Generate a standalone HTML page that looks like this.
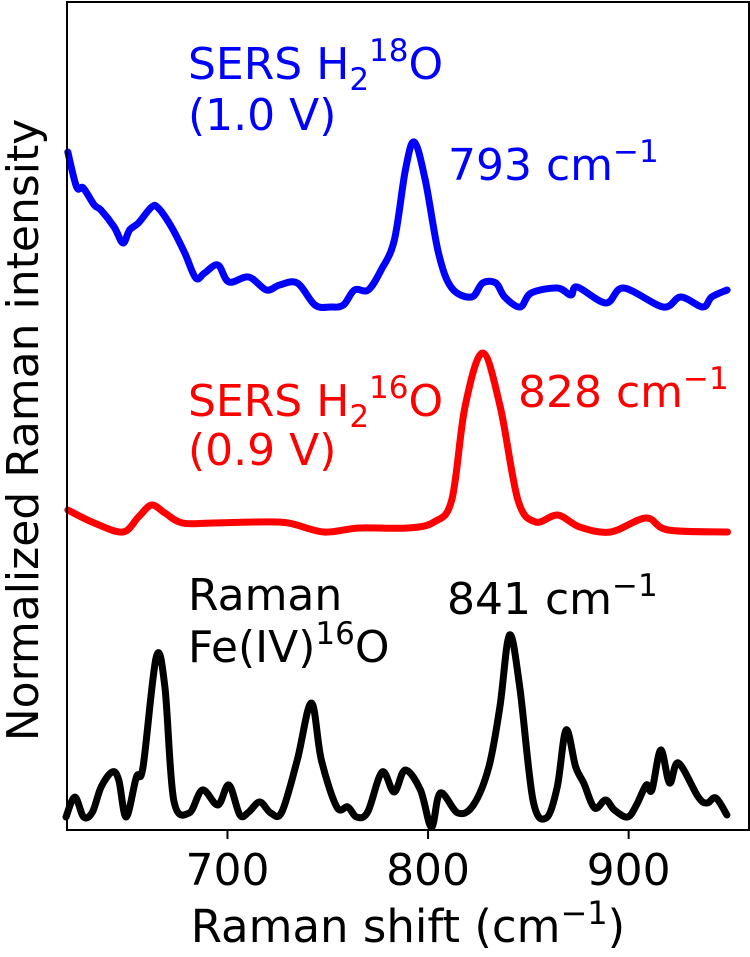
<!DOCTYPE html>
<html><head><meta charset="utf-8"><style>
html,body{margin:0;padding:0;background:#fff;}
svg text{font-family:"DejaVu Sans","Liberation Sans",sans-serif;}
</style></head><body>
<svg id="chart" width="750" height="952" viewBox="0 0 750 952" xmlns="http://www.w3.org/2000/svg">
<g id="series"></g>
<rect x="67" y="2" width="682" height="828" fill="none" stroke="#000" stroke-width="2"/>
<g id="ticks"></g>
<text x="408" y="942" font-size="45" text-anchor="middle">Raman shift (cm<tspan dy="-18" font-size="32">−1</tspan><tspan dy="18">)</tspan></text>
<text transform="translate(38,430) rotate(-90)" font-size="44" text-anchor="middle">Normalized Raman intensity</text>
<g fill="#0000ff" font-size="44">
<text x="188" y="79">SERS H<tspan dy="11" font-size="31">2</tspan><tspan dy="-29" font-size="31">18</tspan><tspan dy="18">O</tspan></text>
<text x="188" y="130">(1.0 V)</text>
<text x="448" y="180">793 cm<tspan dy="-18" font-size="31">−1</tspan></text>
</g>
<g fill="#ff0000" font-size="44">
<text x="188" y="416">SERS H<tspan dy="11" font-size="31">2</tspan><tspan dy="-29" font-size="31">16</tspan><tspan dy="18">O</tspan></text>
<text x="188" y="465">(0.9 V)</text>
<text x="518" y="407">828 cm<tspan dy="-18" font-size="31">−1</tspan></text>
</g>
<g fill="#000" font-size="44">
<text x="188" y="610">Raman</text>
<text x="188" y="662">Fe(IV)<tspan dy="-18" font-size="31">16</tspan><tspan dy="18">O</tspan></text>
<text x="447" y="614">841 cm<tspan dy="-18" font-size="31">−1</tspan></text>
</g>
</svg>
<script>
const xTicks=[700,800,900];
const blueX=[620.4,624.8,628.1,633.6,636.9,643.5,647.9,651.2,655.6,662.2,665.5,672.1,678.7,684.2,688.6,695.2,700.7,710.6,719.4,726,734.8,743.6,751.2,757.8,763.3,770.2,776.6,783.2,788.7,793.1,798.6,805.2,811.8,821.7,827.2,833.8,838.2,845.9,851.4,864.5,871.2,874.4,888.7,897.5,917.2,926,937,941.4,949.1];
const blueY=[678,643,642,625,620,603,587,600,607,623,622,603,577,552,557,565,548,553,540,545,547,525,523,525,540,540,560,590,660,688,650,577,542,533,547,547,533,523,537,542,535,543,527,542,523,533,523,533,540];
const redX=[620.4,633.6,647.9,655.6,662.2,668.8,677.6,693,715,730.4,748,765.6,789.8,803,811.8,818.4,827.2,836,844.8,853.6,864.6,875.6,891,908.6,919.6,949.3];
const redY=[320,307,298,313,325,317,307,307,308,307,298,302,302,308,330,423,477,423,330,308,315,303,298,312,300,298];
const blackX=[619.5,623.9,628.3,632.7,637,642.5,645.8,649.5,654.6,657.9,664.5,668.8,673.2,680.9,687.5,695.2,700.7,706.2,710.6,716.1,721.6,727.1,734.8,741.8,746.8,754.5,760,764.4,769.9,777.1,783.1,788.6,796.2,801.7,806.1,814.9,822.6,830.3,835.8,840.6,845.7,852.3,858.9,864.4,868.8,873.6,877.6,883,888.5,892.9,899.5,903.9,908.8,911.6,916,920.4,924.8,934.7,939.1,943.5,949];
const blackY=[13,33,13,18,43,58,50,13,53,63,173,143,30,17,40,25,45,15,18,28,17,18,70,127,70,23,23,13,18,58,38,60,40,3,37,17,25,63,123,195,143,30,12,43,100,63,47,22,30,20,13,25,45,40,80,47,67,33,27,32,15];
const X0=620,X1=960,PX0=67,PX1=749,PY0=830;
function sx(v){return PX0+(v-X0)*(PX1-PX0)/(X1-X0);}
function sy(v){return PY0-v;}
const NS="http://www.w3.org/2000/svg";
function path(xs,ys){
 const P=xs.map((x,i)=>[sx(x),sy(ys[i])]);
 let d="M"+P[0][0]+","+P[0][1];
 for(let i=0;i<P.length-1;i++){
  const p0=P[Math.max(0,i-1)],p1=P[i],p2=P[i+1],p3=P[Math.min(P.length-1,i+2)];
  const c1x=p1[0]+(p2[0]-p0[0])/6,c1y=p1[1]+(p2[1]-p0[1])/6;
  const c2x=p2[0]-(p3[0]-p1[0])/6,c2y=p2[1]-(p3[1]-p1[1])/6;
  d+=" C"+c1x+","+c1y+" "+c2x+","+c2y+" "+p2[0]+","+p2[1];
 }
 return d;
}
const g=document.getElementById("series");
[[blueX,blueY,"#0000ff","blue-series-h2-18o"],[redX,redY,"#ff0000","red-series-h2-16o"],[blackX,blackY,"#000000","black-series-raman"]].forEach(s=>{
 const p=document.createElementNS(NS,"path");
 p.setAttribute("d",path(s[0],s[1]));
 p.setAttribute("fill","none");p.setAttribute("stroke",s[2]);p.setAttribute("stroke-width","7");p.setAttribute("stroke-linejoin","round");p.setAttribute("stroke-linecap","round");
 
 
 g.appendChild(p);
});
const t=document.getElementById("ticks");
xTicks.forEach(v=>{
 const l=document.createElementNS(NS,"line");
 l.setAttribute("x1",sx(v));l.setAttribute("x2",sx(v));l.setAttribute("y1",830);l.setAttribute("y2",839);l.setAttribute("stroke","#000");l.setAttribute("stroke-width","2");
 
 
 t.appendChild(l);
 const tx=document.createElementNS(NS,"text");
 tx.setAttribute("x",sx(v));tx.setAttribute("y",885);tx.setAttribute("font-size","44");tx.setAttribute("text-anchor","middle");
 tx.textContent=v;
 
 
 t.appendChild(tx);
});
</script>
</body></html>
